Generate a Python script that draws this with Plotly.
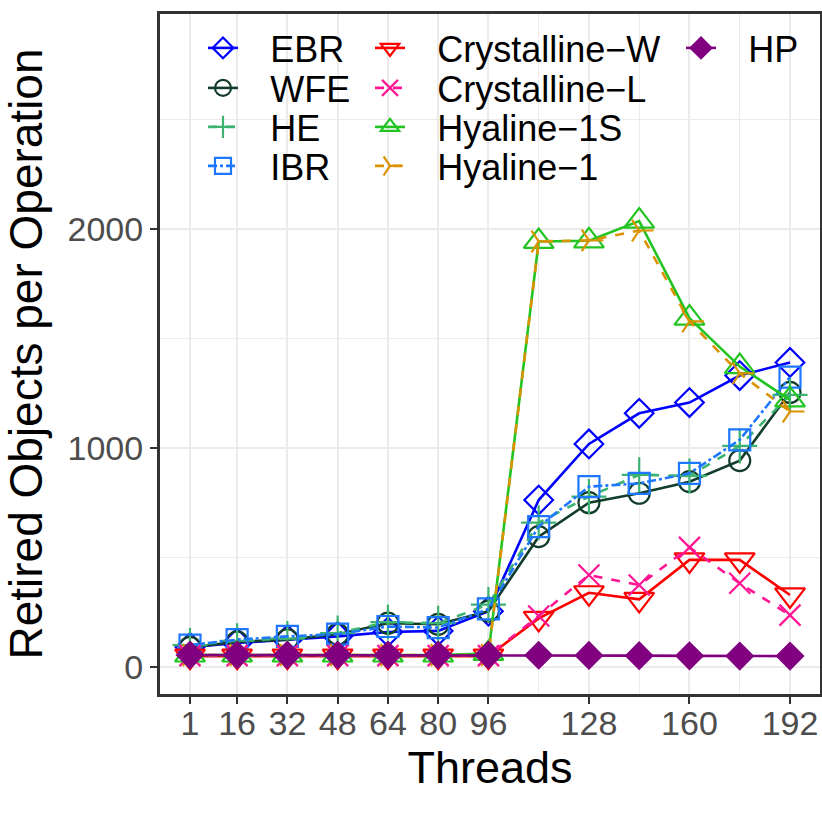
import plotly.graph_objects as go

threads = [1, 16, 32, 48, 64, 80, 96, 112, 128, 144, 160, 176, 192]
tick_threads = [1, 16, 32, 48, 64, 80, 96, 128, 160, 192]

ebr = [90, 110, 125, 140, 160, 165, 255, 762, 1018, 1158, 1207, 1330, 1390]
wfe = [90, 115, 125, 150, 200, 195, 255, 595, 750, 793, 846, 942, 1253]
he = [100, 120, 130, 155, 205, 200, 285, 659, 778, 877, 872, 1009, 1242]
ibr = [100, 125, 140, 150, 185, 180, 265, 641, 823, 838, 884, 1037, 1323]
cryst_w = [50, 50, 50, 50, 50, 50, 50, 222, 339, 309, 489, 489, 329]
cryst_l = [52, 52, 52, 52, 52, 52, 52, 233, 420, 374, 546, 382, 237]
hyaline_1s = [55, 55, 55, 55, 55, 55, 62, 1942, 1945, 2035, 1592, 1371, 1219]
hyaline_1 = [55, 55, 55, 55, 55, 55, 55, 1942, 1947, 1992, 1577, 1340, 1166]
hp = [55, 55, 55, 55, 55, 55, 55, 54, 53, 52, 51, 50, 50]

series = [
    ("EBR", ebr, "#0000FF", "solid", "diamond-open", 22),
    ("WFE", wfe, "#123D2B", "solid", "circle-open", 21),
    ("HE", he, "#3CB371", "dash", "cross-thin-open", 25),
    ("IBR", ibr, "#1E78FF", "dashdot", "square-open", 21),
    ("Crystalline\u2212W", cryst_w, "#FF0000", "solid", "triangle-down-open", 26),
    ("Crystalline\u2212L", cryst_l, "#FF1493", "dash", "x-thin-open", 21),
    ("Hyaline\u22121S", hyaline_1s, "#22C422", "solid", "triangle-up-open", 26),
    ("Hyaline\u22121", hyaline_1, "#DB9200", "dash", "y-right-open", 18),
    ("HP", hp, "#800080", "solid", "diamond", 20),
]

# legend layout (column-major, 3 columns), pixel positions of symbol centres
col_x = [223, 390, 701]
row_y = [49, 89, 128, 167]
slots = [(0, 0), (0, 1), (0, 2), (0, 3), (1, 0), (1, 1), (1, 2), (1, 3), (2, 0)]
PAD = "\u00a0\u00a0\u2009"  # gap between legend symbol and label

W, H = 822, 822
L, R, T, B = 160, 820, 14, 694

FONT = "Liberation Sans, Arial, sans-serif"

fig = go.Figure()
layout_legends = {}
for i, (name, vals, color, dash, sym, size) in enumerate(series):
    lname = "legend" if i == 0 else f"legend{i+1}"
    fig.add_trace(go.Scatter(
        x=threads, y=vals, name=PAD + name, mode="lines+markers",
        line=dict(color=color, width=2.6, dash=dash),
        marker=dict(symbol=sym, size=size, color=color,
                    line=dict(color=color, width=2.2)),
        legend=lname, showlegend=True,
    ))
    c, r = slots[i]
    px, py = col_x[c], row_y[r] - 1
    layout_legends[lname] = dict(
        x=(px - 20 - L) / (R - L), xanchor="left",
        y=(B - py) / (B - T), yanchor="middle",
        bgcolor="rgba(0,0,0,0)", borderwidth=0,
        font=dict(family=FONT, size=36, color="#000000"),
        visible=True,
    )

fig.update_layout(
    width=W, height=H, showlegend=True,
    margin=dict(l=L, r=W - R, t=T, b=H - B, autoexpand=False),
    plot_bgcolor="#FFFFFF", paper_bgcolor="#FFFFFF",
    font=dict(family=FONT, color="#4D4D4D"),
    **layout_legends,
)

fig.update_xaxes(
    range=[-8.55, 201.55], tickmode="array", tickvals=tick_threads,
    ticktext=[str(t) for t in tick_threads],
    showgrid=True, gridcolor="#EBEBEB", gridwidth=2,
    minor=dict(tickmode="array", tickvals=[112, 144, 176], showgrid=True,
               gridcolor="#EBEBEB", gridwidth=1.2),
    showline=True, linecolor="#333333", linewidth=3, mirror=True,
    ticks="outside", ticklen=7, tickwidth=2, tickcolor="#333333",
    tickfont=dict(size=34, color="#4D4D4D"), ticklabelstandoff=-10,
    title=dict(text="Threads", font=dict(size=45, color="#000000"), standoff=10),
    zeroline=False, automargin=False,
)
fig.update_yaxes(
    range=[-123, 2980], tickmode="array", tickvals=[0, 1000, 2000],
    showgrid=True, gridcolor="#EBEBEB", gridwidth=2,
    minor=dict(tickmode="array", tickvals=[500, 1500, 2500], showgrid=True,
               gridcolor="#EBEBEB", gridwidth=1.2),
    showline=True, linecolor="#333333", linewidth=3, mirror=True,
    ticks="outside", ticklen=7, tickwidth=2, tickcolor="#333333",
    tickfont=dict(size=34, color="#4D4D4D"),
    title=dict(text="Retired Objects per Operation", font=dict(size=46, color="#000000"), standoff=16),
    zeroline=False, automargin=False,
)

fig.write_html("out.html", config={"displayModeBar": False},
               post_script="document.body.style.margin='0px';")
